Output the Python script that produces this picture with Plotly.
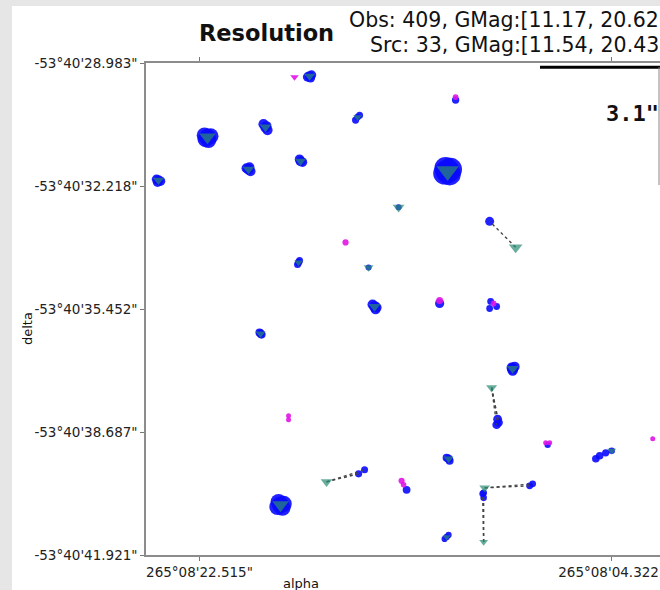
import plotly.graph_objects as go

# ---- sources: RA seconds (of 265°08'), Dec seconds (of -53°40'), G magnitude
src_ra = [17.658, 15.538, 22.162, 19.601, 20.351, 18.055, 24.325, 11.564, 13.728,
          8.561, 18.143, 15.052, 14.787, 19.821, 8.694, 9.621, 11.520, 4.322,
          16.907, 18.938, 9.930, 9.974, 11.608]
src_dec = [-29.326, -30.406, -30.933, -30.669, -31.776, -31.565, -32.066, -31.829,
           -32.777, -33.831, -34.227, -34.358, -35.386, -36.098, -37.020, -37.520,
           -39.391, -39.180, -39.997, -40.603, -40.155, -41.578, -41.446]
src_gmag = [18.7, 19.9, 15.2, 18.2, 18.2, 18.6, 18.6, 11.54, 18.1, 17.0, 19.9, 19.3,
            18.1, 19.3, 18.0, 18.7, 19.3, 19.9, 18.2, 15.1, 18.8, 20.0, 20.43]

# ---- observations matched to a source: offset from it in mas, G mag, linked flag
obs_src = [0, 0, 0, 0, 1, 1, 1, 2, 2, 2, 2, 2, 3, 3, 3, 3, 4, 4, 4, 4, 5, 5, 5,
           6, 6, 6, 6, 7, 7, 7, 7, 7, 8, 9, 10, 10, 10, 11, 12, 12, 12, 12,
           13, 13, 13, 14, 14, 14, 14, 15, 15, 15, 16, 16, 16, 17, 17, 17, 17,
           18, 18, 19, 19, 19, 19, 19, 20, 20, 20, 21, 21, 22, 22, 22]
obs_dra = [0, 88, -88, -44, 0, 88, -88, 0, 88, -132, -44, 132, 0, 88, -88, -44,
           0, 88, -88, -44, 0, 44, -88, 0, -88, 44, 88, 0, 132, -132, -88, 88,
           0, 1148, 0, -44, 44, 0, 0, 88, -88, -44, 0, 44, -44, 0, 0, 44, -88,
           -265, -221, -310, 0, 88, -44, 0, 265, 530, 700, -1413, -1678,
           0, 132, -132, -88, 88, 44, -1987, -2120, 0, 44, 0, 88, -88]
obs_ddec = [0, -26, 26, -52, 0, -78, 52, 0, -52, 26, -78, 52, 0, 78, -78, 26,
            0, 26, -52, 52, 0, 52, -26, 0, -26, -52, 26, 0, -52, 52, -78, 78,
            0, 685, 0, 52, -52, 0, 0, 52, -26, -78, 0, 26, -26, 0, -52, 26, 52,
            -830, -975, -920, 0, 26, -52, 0, -53, -132, -210, 211, 316,
            0, -52, 26, -78, 78, -130, 53, 105, 1160, 1265, 0, -52, 52]
obs_gmag = [18.7, 18.9, 18.9, 19.0, 20.2, 20.0, 20.1, 15.2, 15.6, 15.6, 15.8, 15.8,
            18.2, 18.5, 18.5, 18.6, 18.2, 18.6, 18.6, 18.7, 18.6, 18.8, 18.9,
            18.6, 18.8, 18.9, 18.9, 11.54, 12.2, 12.2, 12.4, 12.4,
            20.6, 19.1, 19.9, 20.1, 20.1, 20.6, 18.1, 18.5, 18.6, 18.7,
            19.3, 19.5, 19.5, 18.0, 18.4, 18.5, 18.6, 19.2, 19.3, 19.4,
            19.3, 19.6, 19.6, 20.3, 20.0, 19.8, 19.8, 20.0, 20.1,
            15.1, 15.4, 15.4, 15.6, 15.6, 20.2, 20.2, 20.2, 20.3, 20.3,
            20.43, 20.5, 20.5]
obs_link = [0, 0, 0, 0, 0, 0, 0, 0, 0, 0, 0, 0, 0, 0, 0, 0, 0, 0, 0, 0, 0, 0, 0,
            0, 0, 0, 0, 0, 0, 0, 0, 0, 0, 1, 0, 0, 0, 0, 0, 0, 0, 0,
            0, 0, 0, 0, 0, 0, 0, 1, 1, 1, 0, 0, 0, 0, 0, 0, 0, 1, 1,
            0, 0, 0, 0, 0, 0, 1, 1, 1, 1, 0, 0, 0]

# ---- observations blended with unmatched detections
field_ra = [11.211, 11.917, 9.665, 9.709, 9.400, 13.374, 7.148]
field_dec = [-29.958, -35.307, -35.254, -35.439, -35.386, -40.208, -39.023]
field_gmag = [19.9, 19.0, 20.2, 20.2, 20.2, 19.7, 20.4]

# ---- unmatched detections
odd_ra = [18.320, 11.211, 16.068, 11.917, 9.533, 18.585, 18.585, 7.236, 7.060,
          2.511, 13.595, 13.507]
odd_dec = [-29.352, -29.879, -33.700, -35.227, -35.307, -38.258, -38.364, -38.970,
           -38.970, -38.864, -39.971, -40.076]
odd_gmag = [19.4, 20.2, 20.0, 19.6, 20.2, 20.6, 20.6, 20.6, 20.6, 20.6, 20.0, 20.3]
odd_symbol = ["triangle-down"] + ["circle"] * 11

# ---- rejected detections
ring_ra = [17.393, 15.273]
ring_dec = [-29.984, -37.758]

# ---- axes
ra_ticks = [22.515, 4.322]
ra_labels = ['265°08\'22.515"', '265°08\'04.322"']
dec_ticks = [-28.983, -32.218, -35.452, -38.687, -41.921]
dec_labels = ['-53°40\'28.983"', '-53°40\'32.218"', '-53°40\'35.452"',
              '-53°40\'38.687"', '-53°40\'41.921"']
ra_range = [24.876, 2.190]
dec_range = [-41.921, -28.983]
scale_arcsec = 3.1

n_obs, n_obs_lo, n_obs_hi = 409, 11.17, 20.62
n_src, n_src_lo, n_src_hi = 33, 11.54, 20.43


def tri_size(g):
    return 7 + 1.4 * (20.5 - g)


def obs_size(g):
    return 6 + 2.0 * (20.6 - g)


obs_ra = [src_ra[s] + d / 1000 for s, d in zip(obs_src, obs_dra)]
obs_dec = [src_dec[s] + d / 1000 for s, d in zip(obs_src, obs_ddec)]

BLUE = "#0a0aff"
TEAL = "#2a8a72"
MAGENTA = "#e014e6"

fig = go.Figure()

# blue observation clusters
fig.add_trace(go.Scatter(
    x=obs_ra + field_ra, y=obs_dec + field_dec, mode="markers",
    marker=dict(color=BLUE, opacity=0.9,
                size=[obs_size(g) for g in obs_gmag + field_gmag],
                line=dict(width=0)),
    hoverinfo="skip", showlegend=False))

# dashed links between a source and its distant observations
lx, ly = [], []
for s, ra, dec, ln in zip(obs_src, obs_ra, obs_dec, obs_link):
    if ln:
        lx += [src_ra[s], ra, None]
        ly += [src_dec[s], dec, None]
fig.add_trace(go.Scatter(
    x=lx, y=ly, mode="lines",
    line=dict(color="#454545", width=1.4, dash="3px,3px"),
    hoverinfo="skip", showlegend=False))

# unmatched detections
fig.add_trace(go.Scatter(
    x=odd_ra, y=odd_dec, mode="markers",
    marker=dict(color=MAGENTA, opacity=0.9, symbol=odd_symbol,
                size=[obs_size(g) - 1 for g in odd_gmag], line=dict(width=0)),
    hoverinfo="skip", showlegend=False))

# sources
fig.add_trace(go.Scatter(
    x=src_ra, y=src_dec, mode="markers",
    marker=dict(color=TEAL, symbol="triangle-down",
                size=[tri_size(g) for g in src_gmag], line=dict(width=0)),
    hoverinfo="skip", showlegend=False))

# rejected detections
fig.add_trace(go.Scatter(
    x=ring_ra, y=ring_dec, mode="markers",
    marker=dict(color="rgba(0,0,0,0)", symbol="circle-open", size=6,
                line=dict(color="#f08080", width=1.3)),
    hoverinfo="skip", showlegend=False))

W, H = 660, 590
L, R, T, B = 146, 0, 63, 35
pw, ph = W - L - R, H - T - B


def px_x(p):
    return (p - L) / pw


def px_y(p):
    return (H - B - p) / ph


shapes = [
    # grey frame strips around the white panel
    dict(type="rect", xref="paper", yref="paper", x0=px_x(0), x1=px_x(12),
         y0=px_y(H), y1=px_y(0), fillcolor="#e6e6e6", line=dict(width=0), layer="below"),
    dict(type="rect", xref="paper", yref="paper", x0=px_x(0), x1=px_x(W),
         y0=px_y(6), y1=px_y(0), fillcolor="#e6e6e6", line=dict(width=0), layer="below"),
    # angular scale bars
    dict(type="line", xref="paper", yref="y", x0=px_x(540), x1=1.05,
         y0=dec_range[1] - 0.11, y1=dec_range[1] - 0.11,
         line=dict(color="black", width=3)),
    dict(type="line", xref="paper", yref="y", x0=px_x(659), x1=px_x(659),
         y0=dec_range[1] - 0.11, y1=dec_range[1] - 0.11 - scale_arcsec,
         line=dict(color="#888888", width=1)),
]

txt = dict(family="DejaVu Sans", color="#111111")
annotations = [
    dict(text="<b>Resolution</b>", xref="paper", yref="paper", x=px_x(197), y=px_y(33),
         xanchor="left", yanchor="middle", showarrow=False,
         font=dict(size=22.5, **txt)),
    dict(text=f"Obs: {n_obs}, GMag:[{n_obs_lo:.2f}, {n_obs_hi:.2f}]", xref="paper",
         yref="paper", x=px_x(669), y=px_y(20), xanchor="right", yanchor="middle",
         showarrow=False, font=dict(size=20.5, **txt)),
    dict(text=f"Src: {n_src}, GMag:[{n_src_lo:.2f}, {n_src_hi:.2f}]", xref="paper",
         yref="paper", x=px_x(669), y=px_y(45), xanchor="right", yanchor="middle",
         showarrow=False, font=dict(size=20.5, **txt)),
    dict(text=f"<b>{scale_arcsec}\"</b>", xref="paper", yref="paper", x=px_x(604),
         y=px_y(113), xanchor="left", yanchor="middle", showarrow=False,
         font=dict(size=22, family="DejaVu Sans Mono", color="#111111")),
    dict(text="alpha", xref="paper", yref="paper", x=px_x(301), y=px_y(583),
         xanchor="center", yanchor="middle", showarrow=False,
         font=dict(size=13, **txt)),
    dict(text="delta", xref="paper", yref="paper", x=px_x(27), y=px_y(329),
         xanchor="center", yanchor="middle", showarrow=False, textangle=-90,
         font=dict(size=13, **txt)),
]

axis_common = dict(showgrid=False, zeroline=False, showline=True, linecolor="#8c8c8c",
                   linewidth=1.5, ticks="outside", ticklen=4, tickwidth=1,
                   tickcolor="#777777",
                   tickfont=dict(family="DejaVu Sans", size=13.5, color="#222222"))

fig.update_layout(
    width=W, height=H, margin=dict(l=L, r=R, t=T, b=B, autoexpand=False),
    paper_bgcolor="white", plot_bgcolor="white",
    xaxis=dict(range=ra_range, tickmode="array", tickvals=ra_ticks, ticktext=ra_labels,
               mirror="ticks", ticklabeloverflow="allow", **axis_common),
    yaxis=dict(range=dec_range, tickmode="array", tickvals=dec_ticks,
               ticktext=dec_labels, **axis_common),
    shapes=shapes, annotations=annotations,
)

fig.write_html("out.html")
